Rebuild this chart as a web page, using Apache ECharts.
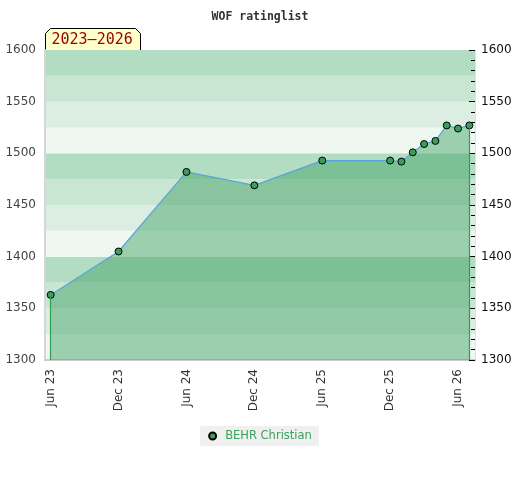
<!DOCTYPE html>
<html>
<head>
<meta charset="utf-8">
<script src="https://cdn.jsdelivr.net/npm/echarts@6/dist/echarts.min.js"></script>
<style>
  html, body { margin: 0; padding: 0; background: #fff; }
  #chart { width: 520px; height: 480px; }
</style>
</head>
<body>
<div id="chart"></div>
<script>
// months from Jun 23 to Jul 26 (one category per month)
var months = ['Jun 23', 'Jul 23', 'Aug 23', 'Sep 23', 'Oct 23', 'Nov 23', 'Dec 23',
  'Jan 24', 'Feb 24', 'Mar 24', 'Apr 24', 'May 24', 'Jun 24',
  'Jul 24', 'Aug 24', 'Sep 24', 'Oct 24', 'Nov 24', 'Dec 24',
  'Jan 25', 'Feb 25', 'Mar 25', 'Apr 25', 'May 25', 'Jun 25',
  'Jul 25', 'Aug 25', 'Sep 25', 'Oct 25', 'Nov 25', 'Dec 25',
  'Jan 26', 'Feb 26', 'Mar 26', 'Apr 26', 'May 26', 'Jun 26', 'Jul 26'];

// rating lists that were published
var ratedMonths = ['Jun 23', 'Dec 23', 'Jun 24', 'Dec 24', 'Jun 25', 'Dec 25',
  'Jan 26', 'Feb 26', 'Mar 26', 'Apr 26', 'May 26', 'Jun 26', 'Jul 26'];
var ratings = [1363, 1405, 1482, 1469, 1493, 1493, 1492, 1501, 1509, 1512, 1527, 1524, 1527];

var playerName = 'BEHR Christian';
var chartTitle = 'WOF ratinglist';
var periodLabel = '2023–2026';

var yMin = 1300, yMax = 1600;

// one slot per month, null where no list
var seriesData = months.map(function (m) {
  var k = ratedMonths.indexOf(m);
  return k < 0 ? null : ratings[k];
});

var firstM = ratedMonths[0], lastM = ratedMonths[ratedMonths.length - 1];
var firstV = ratings[0], lastV = ratings[ratings.length - 1];

var chart = echarts.init(document.getElementById('chart'));
var option = {
  animation: false,
  title: {
    text: chartTitle,
    left: 'center',
    top: 6,
    textStyle: { fontFamily: 'DejaVu Sans Mono', fontSize: 11.5, fontWeight: 'bold', color: '#333' }
  },
  legend: {
    bottom: 34,
    left: 'center',
    backgroundColor: '#f0f0f0',
    padding: [4, 7, 4, 8],
    itemWidth: 7,
    itemHeight: 7,
    itemGap: 10,
    textStyle: { color: '#3aa35a', fontFamily: 'DejaVu Sans', fontSize: 11.5, padding: [0, 0, 0, 4] },
    data: [{ name: playerName, icon: 'circle' }]
  },
  grid: { left: 45, right: 45, top: 50, bottom: 120 },
  xAxis: {
    type: 'category',
    data: months,
    boundaryGap: true,
    axisLine: { lineStyle: { color: '#cccccc', width: 2 } },
    axisTick: { show: false },
    axisLabel: {
      rotate: 90,
      margin: 9,
      color: '#333',
      fontFamily: 'DejaVu Sans',
      fontSize: 12,
      interval: function (i, v) { return v.indexOf('Jun') === 0 || v.indexOf('Dec') === 0; }
    },
    splitLine: { show: false }
  },
  yAxis: [{
    type: 'value',
    position: 'left',
    min: yMin,
    max: yMax,
    interval: 25,
    axisLine: { show: true, lineStyle: { color: '#d6d6d6', width: 2 } },
    axisTick: { show: false },
    axisLabel: {
      color: '#444',
      fontFamily: 'DejaVu Sans',
      fontSize: 12,
      margin: 9,
      formatter: function (v) { return v % 50 === 0 ? String(v) : ''; }
    },
    splitLine: { show: false },
    splitArea: {
      show: true,
      areaStyle: { color: ['#eff7f1', '#dcede2', '#c9e6d3', '#b3ddc3'] }
    }
  }, {
    type: 'value',
    position: 'right',
    min: yMin,
    max: yMax,
    interval: 50,
    axisLine: { show: true, lineStyle: { color: '#e0e0e0', width: 1 } },
    axisTick: { show: true, inside: true, length: 6, lineStyle: { color: '#000' } },
    minorTick: { show: true, splitNumber: 5, length: 4, lineStyle: { color: '#000' } },
    axisLabel: {
      color: '#111',
      fontFamily: 'DejaVu Sans',
      fontSize: 12,
      margin: 6,
      formatter: function (v) { return String(v); }
    },
    splitLine: { show: false }
  }],
  series: [{
    name: playerName,
    type: 'line',
    data: seriesData,
    connectNulls: true,
    symbol: 'circle',
    symbolSize: 7,
    itemStyle: { color: '#3a9e5a', borderColor: '#000', borderWidth: 1 },
    lineStyle: { color: '#5ba3dc', width: 1.2 },
    areaStyle: { color: 'rgba(59,159,95,0.46)', opacity: 1, origin: 'start' },
    markLine: {
      silent: true,
      symbol: 'none',
      label: { show: false },
      lineStyle: { color: '#2e9e50', type: 'solid', width: 1.2 },
      data: [
        [{ coord: [firstM, yMin] }, { coord: [firstM, firstV] }],
        [{ coord: [lastM, yMin] }, { coord: [lastM, lastV] }]
      ]
    },
    z: 3
  }],
  graphic: [{
    type: 'group',
    left: 45,
    top: 28,
    z: 10,
    children: [{
      type: 'polygon',
      shape: { points: [[0, 22], [0, 5], [5, 0], [90, 0], [95, 5], [95, 22]] },
      style: { fill: '#ffffcc', stroke: '#000', lineWidth: 1 }
    }, {
      type: 'text',
      left: 6,
      top: 4,
      style: { text: periodLabel, fill: '#990000', font: '15px "DejaVu Sans Mono"' }
    }]
  }]
};
chart.setOption(option);
</script>
</body>
</html>
